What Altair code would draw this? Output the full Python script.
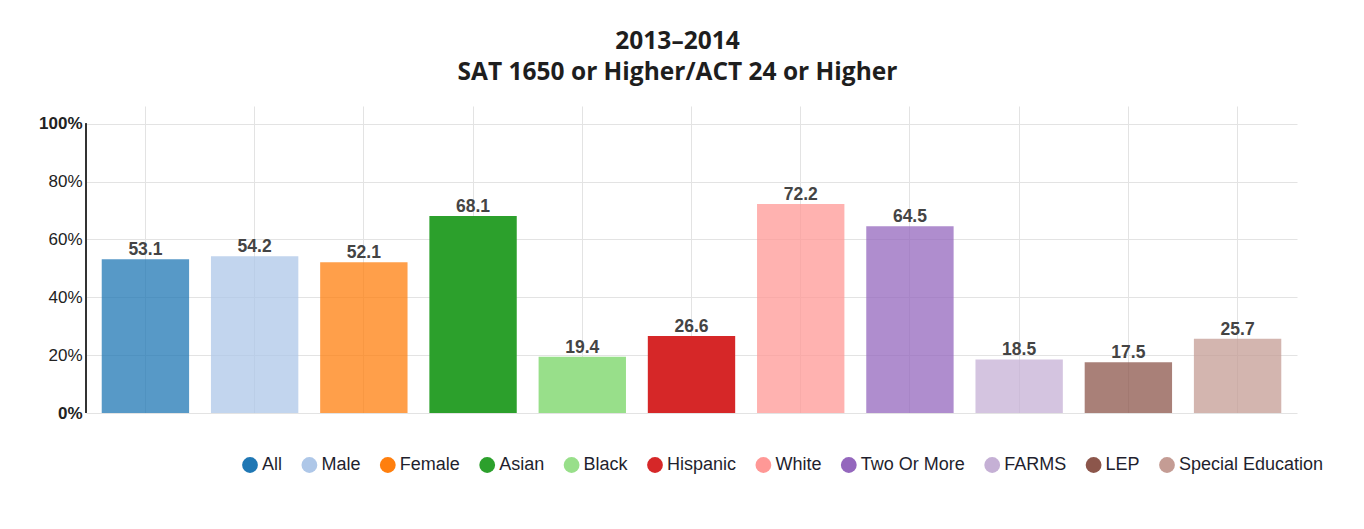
import altair as alt
import pandas as pd

groups = ["All", "Male", "Female", "Asian", "Black", "Hispanic", "White",
          "Two Or More", "FARMS", "LEP", "Special Education"]
values = [53.1, 54.2, 52.1, 68.1, 19.4, 26.6, 72.2, 64.5, 18.5, 17.5, 25.7]
colors = ["#1f77b4", "#aec7e8", "#ff7f0e", "#2ca02c", "#98df8a", "#d62728",
          "#ff9896", "#9467bd", "#c5b0d5", "#8c564b", "#c49c94"]
bar_opacity = [0.75, 0.75, 0.75, 1.0, 1.0, 1.0, 0.75, 0.75, 0.75, 0.75, 0.75]
y_ticks = [0, 20, 40, 60, 80, 100]
title_lines = ["2013\u20132014", "SAT 1650 or Higher/ACT 24 or Higher"]

df = pd.DataFrame({"group": groups, "value": values, "op": bar_opacity})

FONT = "Liberation Sans"

xenc = alt.X(
    "group:N", sort=groups, title=None,
    scale=alt.Scale(paddingInner=0.2, paddingOuter=0.144),
    axis=alt.Axis(labels=False, ticks=False, domain=False, grid=True,
                  bandPosition=0.5, gridColor="#e3e3e3", gridWidth=1),
)
yscale = alt.Scale(domain=[0, 106.1], nice=False, zero=True)
yenc = alt.Y(
    "value:Q", title=None, scale=yscale,
    axis=alt.Axis(values=y_ticks, domain=False, ticks=False, grid=True,
                  gridColor="#e3e3e3", gridWidth=1, labelPadding=4,
                  labelExpr="datum.value + '%'", labelFont=FONT,
                  labelFontSize=17, labelColor="#222",
                  labelFontWeight=alt.expr("datum.value == 0 || datum.value == 100 ? 'bold' : 'normal'")),
)

bars = alt.Chart(df).mark_bar().encode(
    x=xenc,
    y=yenc,
    color=alt.Color(
        "group:N", sort=groups,
        scale=alt.Scale(domain=groups, range=colors),
        legend=alt.Legend(
            title=None, orient="none", direction="horizontal",
            legendX=155, legendY=350, columns=11, columnPadding=17.4,
            symbolType="circle", symbolSize=250, symbolOpacity=1,
            symbolStrokeWidth=0, labelOffset=3,
            labelFont=FONT, labelFontSize=18, labelColor="#1f1f2e",
            padding=0,
        ),
    ),
    opacity=alt.Opacity("op:Q", scale=None, legend=None),
)

labels = alt.Chart(df).mark_text(
    baseline="alphabetic", dy=-4, fontSize=17.5, fontWeight="bold",
    font=FONT, color="#444",
).encode(
    x=alt.X("group:N", sort=groups),
    y=alt.Y("value:Q"),
    text=alt.Text("value:Q", format=".1f"),
)

axis_line = alt.Chart(df).mark_rule(color="#333", strokeWidth=1).encode(
    x=alt.value(0),
    y=alt.datum(0),
    y2=alt.datum(100),
)

chart = alt.layer(bars, axis_line, labels).properties(
    width=1211,
    height=307,
    background="white",
    autosize=alt.AutoSizeParams(type="none"),
    padding={"left": 78, "top": 98, "right": 51, "bottom": 108},
    title=alt.TitleParams(
        text=title_lines, anchor="middle", dx=-14, offset=21,
        font="Open Sans", fontSize=24.5, fontWeight="bold", color="#1e1e1e",
        lineHeight=31,
    ),
).configure_view(strokeWidth=0, stroke="transparent")

chart.save("out.html", embed_options={"renderer": "svg", "actions": False})
